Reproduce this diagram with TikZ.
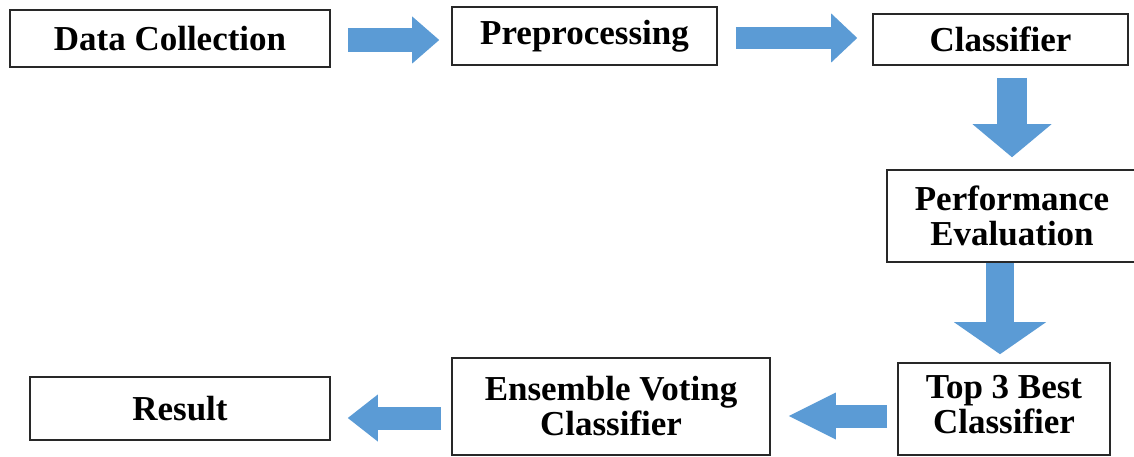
\documentclass[tikz,border=0pt]{standalone}
\usepackage{fontspec}
\setmainfont{Liberation Serif}
\usetikzlibrary{arrows.meta}
\definecolor{arrblue}{RGB}{91,155,213}
\definecolor{boxline}{RGB}{40,40,40}
\tikzset{
  box/.style={draw=boxline, line width=1.6pt, fill=white, inner sep=0pt, align=center,
    font=\fontsize{35}{35}\selectfont\bfseries},
  barrow/.style n args={3}{draw=arrblue, line width=#1,
    -{Triangle[width=#2, length=#3, line width=0pt, fill=arrblue]}}
}
\begin{document}
\begin{tikzpicture}[x=1pt, y=-1pt]
\useasboundingbox (0,0) rectangle (1134,457);
\node[box, minimum width=320pt, minimum height=57pt] (dc) at (170,38.5) {Data Collection};
\node[box, minimum width=265pt, minimum height=58pt] (pre) at (584.5,36) {Preprocessing};
\node[box, minimum width=255pt, minimum height=51pt] (cls) at (1000.5,39.5) {Classifier};
\node[box, minimum width=250pt, minimum height=92pt] (perf) at (1012,216) {Performance\\Evaluation};
\node[box, minimum width=212pt, minimum height=92pt] (top) at (1004,409)
  {\raisebox{7pt}{\begin{tabular}{@{}c@{}}Top 3 Best\\Classifier\end{tabular}}};
\node[box, minimum width=318pt, minimum height=97pt] (ens) at (611,406.5) {Ensemble Voting\\Classifier};
\node[box, minimum width=300pt, minimum height=63pt] (res) at (180,408.5) {Result};

\draw[barrow={24pt}{47pt}{27pt}, shorten <=17pt, shorten >=12pt]
  ([yshift=-1.5pt]dc.east) -- ([yshift=-1.5pt]dc.east -| pre.west);
\draw[barrow={22pt}{49pt}{26pt}, shorten <=18pt, shorten >=15pt]
  ([yshift=-2pt]pre.east) -- ([yshift=-2pt]pre.east -| cls.west);
\draw[barrow={30pt}{79pt}{33pt}, shorten <=12pt, shorten >=12pt]
  ([xshift=11.5pt]cls.south) -- ([xshift=11.5pt]cls.south |- perf.north);
\draw[barrow={28pt}{92pt}{32pt}, shorten >=8pt]
  ([xshift=-4pt]top.north |- perf.south) -- ([xshift=-4pt]top.north);
\draw[barrow={23pt}{47pt}{47pt}, shorten <=10pt, shorten >=18pt]
  ([yshift=-7pt]top.west) -- ([yshift=-7pt]top.west -| ens.east);
\draw[barrow={23pt}{47pt}{30pt}, shorten <=10pt, shorten >=17pt]
  ([yshift=-11.5pt]ens.west) -- ([yshift=-11.5pt]ens.west -| res.east);
\end{tikzpicture}
\end{document}
